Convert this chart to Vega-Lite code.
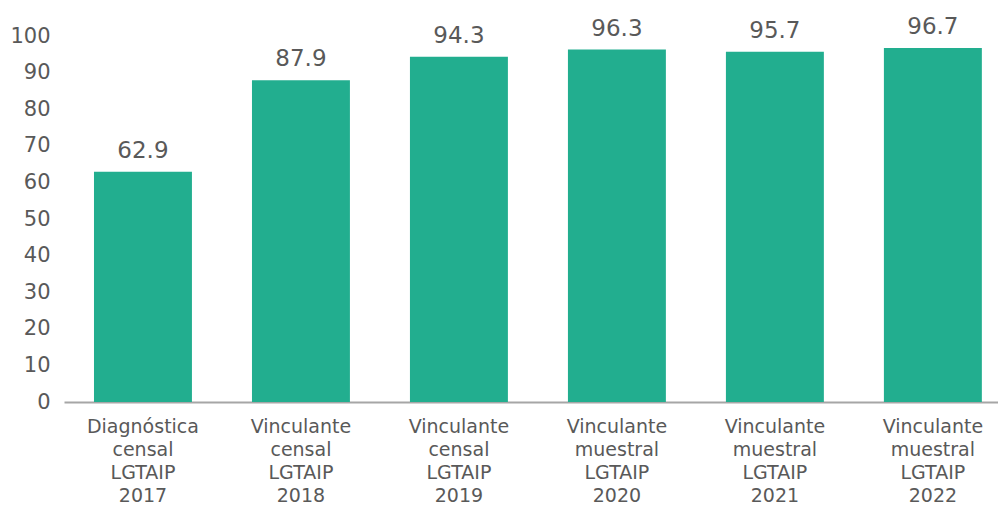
{
  "$schema": "https://vega.github.io/schema/vega-lite/v6.json",
  "autosize": "none",
  "width": 934,
  "height": 366,
  "padding": {"left": 64, "top": 36, "right": 0, "bottom": 106},
  "background": "white",
  "config": {"view": {"stroke": null}, "font": "DejaVu Sans"},
  "data": {
    "values": [
      {"cat": "Diagnóstica|censal|LGTAIP|2017", "value": 62.9},
      {"cat": "Vinculante|censal|LGTAIP|2018", "value": 87.9},
      {"cat": "Vinculante|censal|LGTAIP|2019", "value": 94.3},
      {"cat": "Vinculante|muestral|LGTAIP|2020", "value": 96.3},
      {"cat": "Vinculante|muestral|LGTAIP|2021", "value": 95.7},
      {"cat": "Vinculante|muestral|LGTAIP|2022", "value": 96.7}
    ]
  },
  "encoding": {
    "x": {
      "field": "cat",
      "type": "nominal",
      "sort": null,
      "scale": {"paddingInner": 0.38, "paddingOuter": 0.146, "align": 0.65},
      "axis": {
        "title": null,
        "labelAngle": 0,
        "labelExpr": "split(datum.label, '|')",
        "labelFontSize": 19,
        "labelLineHeight": 23,
        "labelColor": "#595959",
        "labelBaseline": "top",
        "labelPadding": 15,
        "ticks": false,
        "domainColor": "#A6A6A6",
        "domainWidth": 2
      }
    },
    "y": {
      "field": "value",
      "type": "quantitative",
      "scale": {"domain": [0, 100], "nice": false},
      "axis": {
        "title": null,
        "values": [0, 10, 20, 30, 40, 50, 60, 70, 80, 90, 100],
        "grid": false,
        "domain": false,
        "ticks": false,
        "labelFontSize": 21,
        "labelColor": "#595959",
        "labelPadding": 14
      }
    }
  },
  "layer": [
    {"mark": {"type": "bar", "color": "#22AE8F"}},
    {
      "mark": {"type": "text", "dy": -14, "baseline": "alphabetic", "fontSize": 23, "color": "#595959"},
      "encoding": {"text": {"field": "value", "type": "quantitative", "format": ".1f"}}
    }
  ]
}
